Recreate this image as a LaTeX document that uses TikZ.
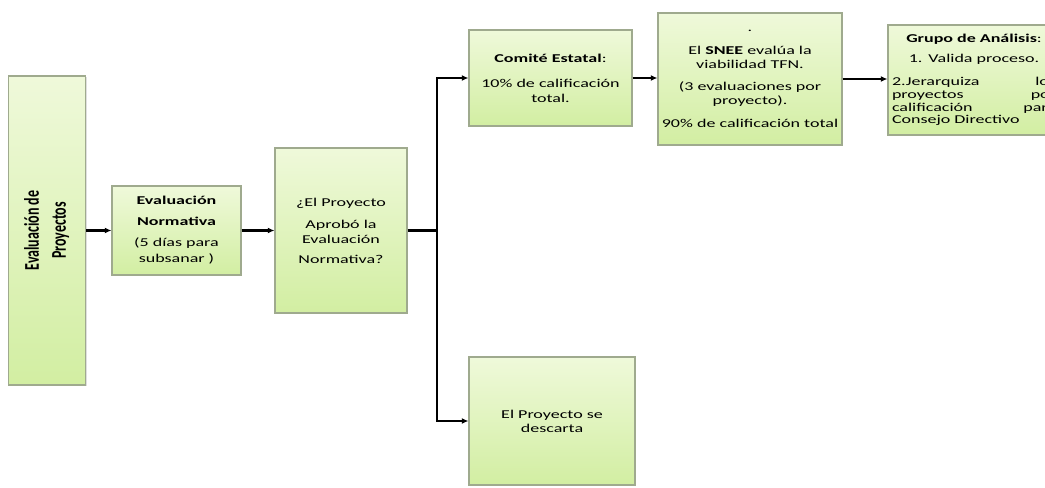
\documentclass[tikz,border=0pt]{standalone}
\usepackage{fontspec}
\setmainfont{Carlito}[FakeStretch=1.5]
\newfontfamily\narrowfont{Carlito}
\usepackage{graphicx}
\usetikzlibrary{arrows.meta,shadows}
\definecolor{boxtop}{HTML}{EFF9DA}
\definecolor{boxbottom}{HTML}{D2EEA2}
\definecolor{boxline}{HTML}{9FAA8E}
\tikzset{box/.style={draw=boxline, line width=0.8pt, top color=boxtop, bottom color=boxbottom,
    drop shadow={opacity=0.25, shadow xshift=1pt, shadow yshift=-1pt},
    align=center, inner xsep=2pt, font=\fontsize{9}{10.5}\selectfont},
%arrows between the boxes
flow/.style={line width=1.6pt, -{Latex[length=5pt,width=4.5pt]}}}

\begin{document}
\begin{tikzpicture}[x=0.75pt,y=-0.75pt]

\useasboundingbox (0,0) rectangle (1045,487);

\node[box, minimum width=57.75pt, minimum height=231.75pt] (eval) at (47,230.5)
    {\scalebox{1.5}[1]{\rotatebox{90}{\narrowfont\bfseries\fontsize{10.5}{13.5}\selectfont
     \begin{tabular}{@{}c@{}}Evaluación de\\ Proyectos\end{tabular}}}};
\node[box, minimum width=96.75pt, minimum height=66.75pt] (norma) at (176.5,230.5)
    {\textbf{Evaluación}\\[5.25pt] \textbf{Normativa}\\[5.25pt] (5 días para\\[1.5pt] subsanar )};
\node[box, minimum width=99pt, minimum height=123.75pt] (pregunta) at (341,230.5)
    {¿El Proyecto\\[6pt] Aprobó la\\[0.75pt] Evaluación\\[4.5pt] Normativa?};
\node[box, minimum width=122.25pt, minimum height=72pt] (comite) at (550.5,78)
    {\textbf{Comité Estatal}:\\[8.25pt] 10\% de calificación\\[0.75pt] total.};
\node[box, minimum width=138pt, minimum height=99pt] (snee) at (750,79)
    {.\\[6.5pt] El \textbf{SNEE} evalúa la\\ viabilidad TFN.\\[6.5pt] (3 evaluaciones por\\ proyecto).\\[6.5pt] 90\% de calificación total};
\node[box, minimum width=129pt, minimum height=82.5pt, text width=123pt, inner xsep=3pt] (grupo) at (974,80)
    {\textbf{Grupo de Análisis}:\\[4.5pt] 1. Valida proceso.\\[6.75pt]
     \makebox[123pt]{2.Jerarquiza\hfill los}\\[-1pt]
     \makebox[123pt]{proyectos\hfill por}\\[-1pt]
     \makebox[123pt]{calificación\hfill para}\\[-1pt]
     \makebox[123pt][l]{Consejo Directivo}};
\node[box, minimum width=124.5pt, minimum height=96pt] (descarta) at (552,421)
    {El Proyecto se\\ descarta};

\coordinate (split) at (437,230.5);

\foreach \a/\b in {eval/norma, norma/pregunta}
    \draw[flow] (\a) -- (\b);

\draw[line width=1.6pt] (pregunta.east) -- (split);
\draw[flow] (split) |- (comite.west);
\draw[flow] (split) |- (descarta.west);
\draw[flow] (comite.east) -- (comite.east -| snee.west);
\draw[flow] (snee.east) -- (snee.east -| grupo.west);

\end{tikzpicture}
\end{document}
